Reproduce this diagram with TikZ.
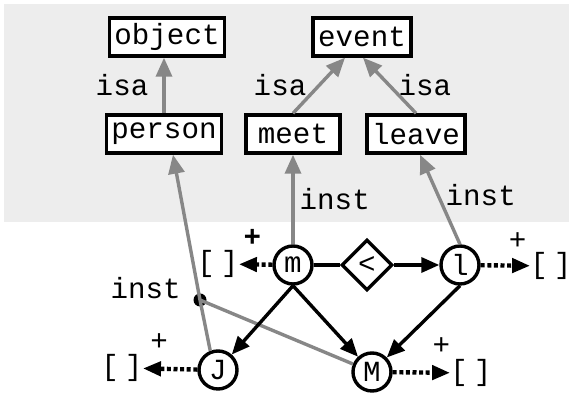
\documentclass[tikz,border=0pt]{standalone}
\usepackage{fontspec}
\usepackage{xcolor}
\usetikzlibrary{shapes.geometric,arrows.meta}
\newfontfamily\courfont{Liberation Mono}
\newcommand{\cfont}{\courfont\fontsize{14.6}{17}\selectfont}
\newcommand{\nilset}{[\kern3pt]}
\tikzstyle{concept} = [draw, line width=1.7pt, fill=white, font=\cfont, minimum width=47pt, minimum height=19pt, inner xsep=2.5pt, inner ysep=0pt]
\tikzstyle{junction} = [circle, minimum size=6.5pt, fill, inner sep=0pt]
\tikzset{var/.style={circle, draw, line width=1.7pt, fill=white, minimum size=19pt, inner sep=0pt, font=\cfont},
    rel/.style={diamond, draw, line width=1.7pt, fill=white, minimum width=25.5pt, minimum height=25.5pt, inner sep=0pt, font=\cfont},
    lbl/.style={font=\cfont, inner sep=1pt},
    plussign/.style={font=\cfont, inner sep=1pt},
    isa/.style={draw=link gray, line width=1.7pt, -{Triangle[length=9.5pt,width=8pt]}},
    inst/.style={isa},
    instline/.style={draw=link gray, line width=1.7pt},
    arc/.style={line width=1.7pt, -{Triangle[length=9pt,width=7.5pt]}},
    restarc/.style={line width=2.2pt, dash pattern=on 2pt off 1.3pt, -{Triangle[length=9pt,width=7pt]}}}

\begin{document}
\begin{tikzpicture}[x=0.5pt, y=-0.5pt]
    \colorlet{link gray}{black!47}
    \colorlet{panel}{black!7}
    \useasboundingbox (0,0) rectangle (569,394);
    % grey panel behind the types
    \fill[panel] (4,4) rectangle (569,222);
    %
    % types
    \node[concept] (object) at (167,37) {object};
    \node[concept] (event)  at (362,37) {event};
    \node[concept] (person) at (164,134) {person};
    \node[concept] (meet)   at (293,134) {meet};
    \node[concept] (leave)  at (416,134) {leave};
    \draw[isa] (person.north) -- node[lbl, left=6pt] {isa} (person.north |- object.south);
    \draw[isa] (meet.north) -- node[lbl, left=4.5pt] {isa} ([xshift=-8.5pt]event.south);
    \draw[isa] (leave.north) -- node[lbl, right=2.75pt] {isa} ([xshift=0.5pt]event.south);
    %
    % instances
    \node[var] (m) at (293,265) {m};
    \node[rel] (lt) at (367,265) {<};
    \node[var] (l) at (460,265) {l};
    \node[var] (J) at (218,370) {J};
    \node[var] (M) at (372,372) {M};
    \node[junction, label={[lbl, xshift=-5pt, yshift=6pt]left:inst}] (pt) at (200,300) {};
    \node[lbl, inner sep=0pt] (mout) at (218,264) {\nilset};
    \node[lbl, inner sep=0pt] (Jout) at (122,368) {\nilset};
    \node[lbl, inner sep=0pt] (lout) at (551,266) {\nilset};
    \node[lbl, inner sep=0pt] (Mout) at (471,373) {\nilset};
    %
    % instance links up to the types
    \draw[inst] (m) -- node[lbl, right=1.5pt] {inst} (meet);
    \draw[inst] (l.north) -- node[lbl, pos=0.55, right=2pt] {inst} ([xshift=2pt]leave.south);
    \draw[inst] (J.112) -- (pt.center) -- ([xshift=4.5pt]person.south);
    \draw[instline] (pt.center) -- (M);
    %
    % relations between the instances
    \draw[line width=1.7pt] (m) -- (lt);
    \draw[arc] (lt) -- (l);
    \draw[arc] (m.south) -- (J);
    \draw[arc] (m.south) -- (M);
    \draw[arc] (l.south) -- (M);
    \draw[restarc] (m) -- node[plussign, pos=0.6, above=7pt] {\bfseries +} (mout);
    \draw[restarc] (J) -- node[plussign, pos=0.7, above=7pt] {+} (Jout);
    \draw[restarc] (l) -- node[plussign, pos=0.75, above=6pt] {+} (lout);
    \draw[restarc] (M) -- node[plussign, pos=0.85, above=7pt] {+} (Mout);
\end{tikzpicture}
\end{document}
